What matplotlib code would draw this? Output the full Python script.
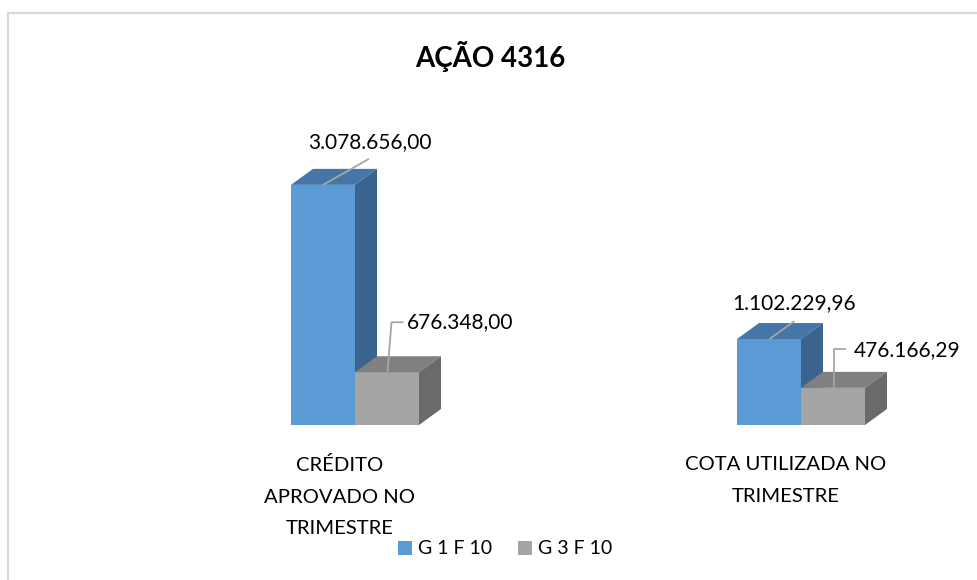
import matplotlib
matplotlib.use('Agg')
import matplotlib.pyplot as plt
from matplotlib.patches import Polygon, Patch
from matplotlib.lines import Line2D

# ---------------- data ----------------
title = "AÇÃO 4316"
categories = ["CRÉDITO\nAPROVADO NO\nTRIMESTRE", "COTA UTILIZADA NO\nTRIMESTRE"]
series_names = ["G 1 F 10", "G 3 F 10"]
g1f10 = [3078656.00, 1102229.96]
g3f10 = [676348.00, 476166.29]


def fmt(v):
    s = f"{v:,.2f}"
    return s.replace(",", "X").replace(".", ",").replace("X", ".")


FONT = ['Lato', 'DejaVu Sans']
plt.rcParams['font.family'] = FONT

W, H = 977, 580
fig = plt.figure(figsize=(W / 100, H / 100), dpi=100)
fig.patch.set_facecolor('white')

# axes geometry (pixels)
ax_l, ax_r, ax_t, ax_b = 100, 950, 113, 425
ax = fig.add_axes([ax_l / W, 1 - ax_b / H, (ax_r - ax_l) / W, (ax_b - ax_t) / H])
ymax = 4.0e6
group_px = 446
x0_px = 355
xlim = ((ax_l - x0_px) / group_px, (ax_r - x0_px) / group_px)
ax.set_xlim(*xlim)
ax.set_ylim(0, ymax)
ax.axis('off')

ppx = (ax_r - ax_l) / (xlim[1] - xlim[0])
ppy = (ax_b - ax_t) / ymax
bw = 64 / group_px
dx = 22 / ppx
dy = 16 / ppy

styles = [
    dict(front='#5B9BD5', top='#4676A8', side='#3A648E'),
    dict(front='#A5A5A5', top='#808080', side='#6A6A6A'),
]
series = [g1f10, g3f10]
shift = [-0.5, 0.5]

# label layout per (category, series): leader vertices & text offset in px
label_layout = {
    (0, 0): dict(path=[(0, 0), (46, 26)], text=(47, 43), ha='center'),
    (0, 1): dict(path=[(0.5, 0), (4.5, 50), (16.5, 50)], text=(20, 50), ha='left'),
    (1, 0): dict(path=[(0.5, 0), (25.5, 18)], text=(25, 36), ha='center'),
    (1, 1): dict(path=[(1, 0), (1, 39), (13, 39)], text=(21, 38), ha='left'),
}

z = 2
for ci in range(len(categories)):
    for si, vals in enumerate(series):
        v = vals[ci]
        st = styles[si]
        xc = ci + shift[si] * bw
        l, r = xc - bw / 2, xc + bw / 2
        ax.bar(xc, v, width=bw, color=st['front'], zorder=z, linewidth=0)
        ax.add_patch(Polygon([(l, v), (r, v), (r + dx, v + dy), (l + dx, v + dy)],
                             closed=True, facecolor=st['top'], edgecolor='none', zorder=z))
        ax.add_patch(Polygon([(r, 0), (r, v), (r + dx, v + dy), (r + dx, dy)],
                             closed=True, facecolor=st['side'], edgecolor='none', zorder=z))
        z += 1

for ci in range(len(categories)):
    for si, vals in enumerate(series):
        v = vals[ci]
        xc = ci + shift[si] * bw
        lay = label_layout[(ci, si)]
        xs = [xc + px / ppx for px, py in lay['path']]
        ys = [v + py / ppy for px, py in lay['path']]
        ax.plot(xs, ys, color='#A6A6A6', lw=1.3, zorder=20, solid_capstyle='butt')
        ax.annotate(fmt(v), xy=(xc, v), xycoords='data', xytext=lay['text'],
                    textcoords='offset pixels', ha=lay['ha'], va='center',
                    fontsize=15, color='#000000', zorder=21, annotation_clip=False)

for ci, cat in enumerate(categories):
    ax.annotate(cat, xy=(ci, 0), xycoords='data', xytext=(-15, -31),
                textcoords='offset pixels', ha='center', va='top', multialignment='center',
                fontsize=14.6, linespacing=2.04, color='#000000', annotation_clip=False)

fig.text(490 / W, 1 - 57 / H, title, ha='center', va='center', fontsize=20,
         fontweight='bold', color='#000000')

handles = [Patch(facecolor=styles[i]['front'], edgecolor='none') for i in range(2)]
fig.legend(handles, series_names, loc='center', bbox_to_anchor=(505 / W, 1 - 549 / H),
           ncol=2, frameon=False, fontsize=14, handlelength=0.75, handleheight=0.75,
           handletextpad=0.3, columnspacing=1.3, borderaxespad=0)

# chart border (partially cropped)
bc = '#D9D9D9'
fig.add_artist(Line2D([7.5 / W, 7.5 / W], [0, 1 - 13 / H], transform=fig.transFigure,
                      color=bc, lw=1.5))
fig.add_artist(Line2D([7.5 / W, 1], [1 - 13 / H, 1 - 13 / H], transform=fig.transFigure,
                      color=bc, lw=1.5))

fig.savefig('out.png', dpi=100, facecolor='white')
